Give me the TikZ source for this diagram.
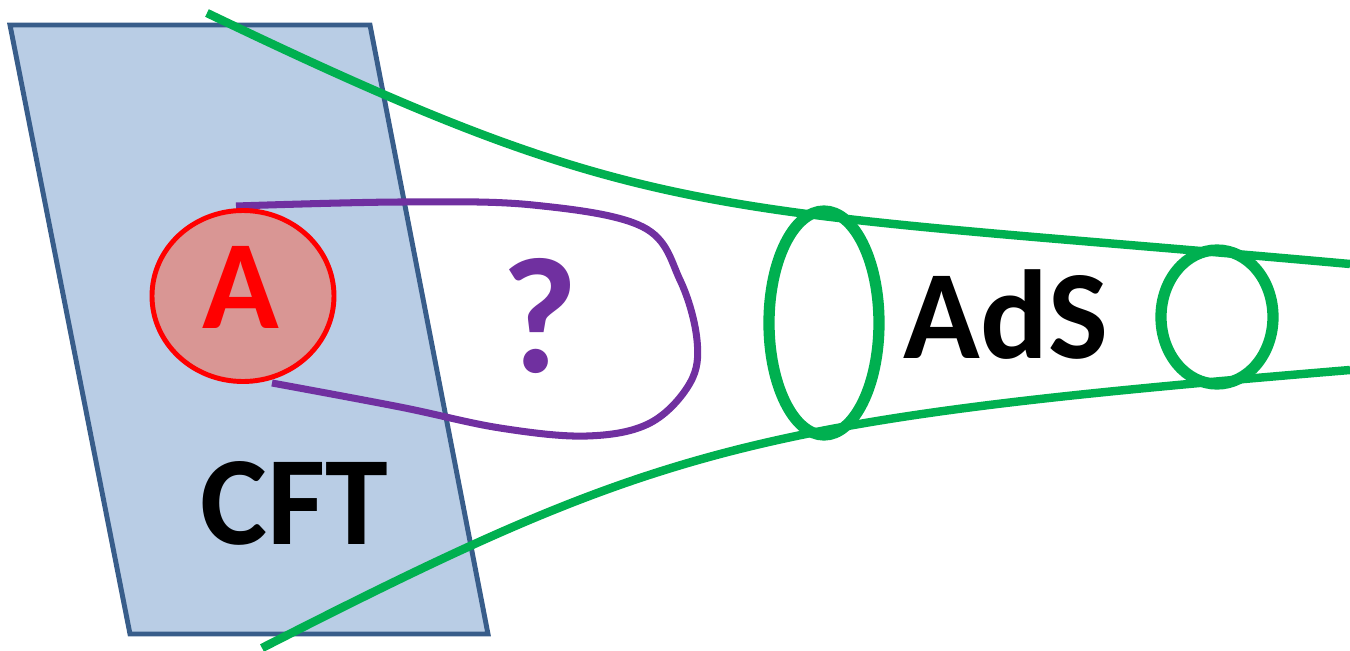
\documentclass[tikz,border=0pt]{standalone}
\usepackage{fontspec}
\setmainfont{Carlito}
\definecolor{cftfill}{HTML}{B9CDE5}
\definecolor{cftline}{HTML}{385D8A}
\definecolor{adsgreen}{HTML}{00B050}
\definecolor{qpurple}{HTML}{7030A0}
\definecolor{afill}{HTML}{D99694}
\definecolor{ared}{HTML}{FF0000}
\begin{document}
\begin{tikzpicture}[x=0.01cm,y=-0.01cm,
  greenline/.style={draw=adsgreen,line width=2.4pt},
  greenring/.style={draw=adsgreen,line width=3.2pt},
  purpleline/.style={draw=qpurple,line width=2.0pt},
  bigtext/.style={anchor=base,inner sep=0pt,font=\fontsize{36}{40}\selectfont\bfseries}]
\useasboundingbox (0,0) rectangle (1350,651);
% CFT plane
\draw[fill=cftfill,draw=cftline,line width=1.4pt,line join=miter]
  (10,25) -- (370,25) -- (488,634) -- (130,634) -- cycle;
% green boundary curves
\draw[greenline] (207,13) .. controls (657,229) and (700,205.5) .. (1350,264);
\draw[greenline] (262,648) .. controls (662,444) and (750,419.8) .. (1350,370);
% purple curve
\draw[purpleline] plot[smooth,tension=0.6] coordinates
  {(236,206) (400,202) (533,205) (643,227) (680,280) (697,340) (690,383) (650,423) (587,436) (500,428) (400,407) (272,383)};
% region A
\draw[draw=ared,fill=afill,line width=1.4pt] (243,296) ellipse [x radius=91, y radius=85.5];
\node[bigtext,text=ared] (A) at (241,328) {A};
% green rings
\draw[greenring] (824,323) ellipse [x radius=55, y radius=112];
\draw[greenring] (1217,317) ellipse [x radius=56, y radius=67];
% labels
\node[bigtext] (cft) at (294,544) {CFT};
\node[bigtext] (ads) at (1006,358) {AdS};
\node[anchor=base,inner sep=0pt,text=qpurple,font=\fontsize{47}{50}\selectfont\bfseries] (q) at (540,372) {?};
\end{tikzpicture}
\end{document}
